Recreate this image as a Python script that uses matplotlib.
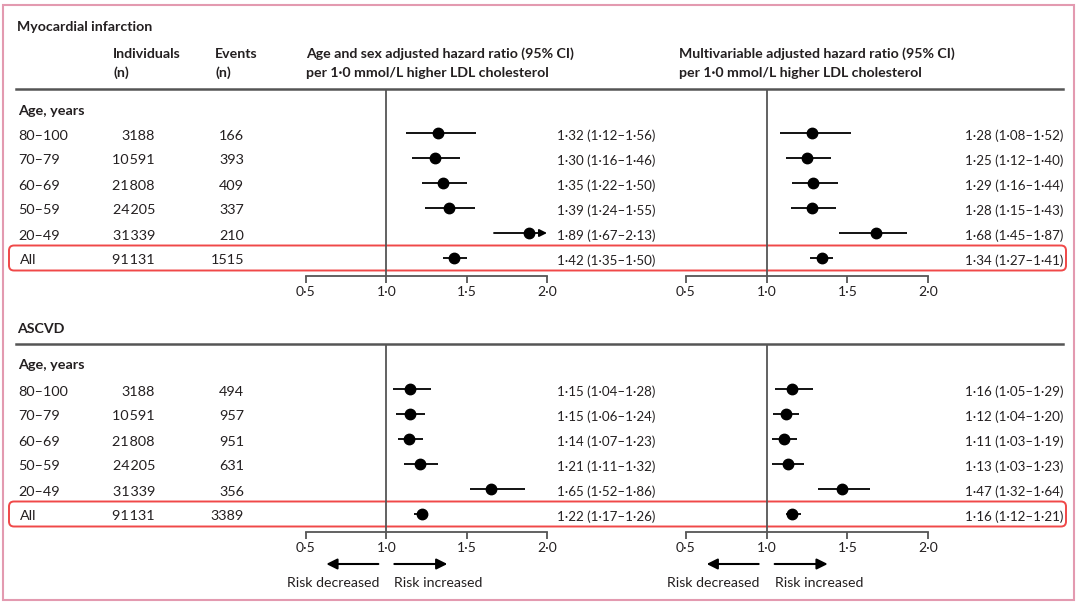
import matplotlib
matplotlib.use("Agg")
import matplotlib.pyplot as plt
from matplotlib.patches import FancyBboxPatch, Rectangle

plt.rcParams['font.family'] = ['Lato', 'DejaVu Sans']

# ---- data -------------------------------------------------------------
age_groups = ["80–100", "70–79", "60–69", "50–59", "20–49", "All"]
individuals = [3188, 10591, 21808, 24205, 31339, 91131]

mi_events = [166, 393, 409, 337, 210, 1515]
mi_agesex = [1.32, 1.30, 1.35, 1.39, 1.89, 1.42]
mi_agesex_lo = [1.12, 1.16, 1.22, 1.24, 1.67, 1.35]
mi_agesex_hi = [1.56, 1.46, 1.50, 1.55, 2.13, 1.50]
mi_multi = [1.28, 1.25, 1.29, 1.28, 1.68, 1.34]
mi_multi_lo = [1.08, 1.12, 1.16, 1.15, 1.45, 1.27]
mi_multi_hi = [1.52, 1.40, 1.44, 1.43, 1.87, 1.41]

ascvd_events = [494, 957, 951, 631, 356, 3389]
ascvd_agesex = [1.15, 1.15, 1.14, 1.21, 1.65, 1.22]
ascvd_agesex_lo = [1.04, 1.06, 1.07, 1.11, 1.52, 1.17]
ascvd_agesex_hi = [1.28, 1.24, 1.23, 1.32, 1.86, 1.26]
ascvd_multi = [1.16, 1.12, 1.11, 1.13, 1.47, 1.16]
ascvd_multi_lo = [1.05, 1.04, 1.03, 1.03, 1.32, 1.12]
ascvd_multi_hi = [1.29, 1.20, 1.19, 1.23, 1.64, 1.21]

xticks = [0.5, 1.0, 1.5, 2.0]
xticklabels = ["0·5", "1·0", "1·5", "2·0"]

TXT = "#231f20"
GREY = "#555555"
RED = "#f04848"
PINK = "#e39ab0"
W, H = 1080, 605
FS = 10.4
FSV = 9.6   # value columns

fig = plt.figure(figsize=(W / 100, H / 100), dpi=100)
bg = fig.add_axes([0, 0, 1, 1])
bg.set_xlim(0, W); bg.set_ylim(H, 0); bg.axis("off")


def fmt(v):
    return f"{v:.2f}".replace(".", "·")


def thou(n):
    # five-digit numbers get a hair space, four-digit ones none
    if n < 10000:
        return str(n)
    return f"{n:,}".replace(",", "\u200a")


def forest(x0, x1, ytop, ybot, row0, est, lo, hi):
    # axes placed in pixel space; rows are 25 px apart starting at row0
    ax = fig.add_axes([x0 / W, 1 - ybot / H, (x1 - x0) / W, (ybot - ytop) / H])
    ax.set_xlim(0.5, 2.0)
    ax.set_ylim((ybot - row0) / 25, -(row0 - ytop) / 25)
    ax.patch.set_alpha(0)
    for s in ("top", "left", "right"):
        ax.spines[s].set_visible(False)
    ax.spines["bottom"].set_color(GREY)
    ax.spines["bottom"].set_linewidth(1.3)
    ax.set_yticks([])
    ax.set_xticks(xticks)
    ax.set_xticklabels(xticklabels)
    ax.tick_params(axis="x", direction="out", length=5, width=1.3, color=GREY,
                   labelsize=10, labelcolor=TXT, pad=2)
    ax.axvline(1.0, color=GREY, lw=1.3, zorder=1)
    for i, (e, l, h) in enumerate(zip(est, lo, hi)):
        if h > 2.0:
            ax.annotate("", xy=(2.0, i), xytext=(l, i),
                        arrowprops=dict(arrowstyle="-|>", lw=1.3, color="black",
                                        mutation_scale=11, shrinkA=0, shrinkB=0),
                        annotation_clip=False)
        else:
            ax.plot([l, h], [i, i], color="black", lw=1.3, solid_capstyle="butt")
        ax.plot(e, i, "o", color="black", ms=7.5, zorder=3)
    return ax


def panel(title, ty, hline_y, age_y, row0, axis_y, events, a_est, a_lo, a_hi,
          m_est, m_lo, m_hi, headers):
    bg.text(17, ty, title, fontsize=10.2, fontweight="bold", color=TXT, va="center")
    if headers:
        for x, l1, l2 in [(113, "Individuals", "(n)"), (215, "Events", "(n)"),
                          (306, "Age and sex adjusted hazard ratio (95% CI)",
                           "per 1·0 mmol/L higher LDL cholesterol"),
                          (679, "Multivariable adjusted hazard ratio (95% CI)",
                           "per 1·0 mmol/L higher LDL cholesterol")]:
            bg.text(x, 54, l1, fontsize=10.2, fontweight="bold", color=TXT, va="center")
            bg.text(x, 73, l2, fontsize=10.2, fontweight="bold", color=TXT, va="center")
    bg.plot([16, 1063], [hline_y, hline_y], color=GREY, lw=1.8)
    bg.text(18, age_y + 1, "Age, years", fontsize=FS, fontweight="bold", color=TXT, va="center")
    for i, (g, n, ev) in enumerate(zip(age_groups, individuals, events)):
        y = row0 + 25 * i + 2.5
        bg.text(20 if g == "All" else 18, y, g, fontsize=FS, color=TXT, va="center")
        bg.text(155, y, thou(n), fontsize=FS, color=TXT, va="center", ha="right")
        bg.text(244, y, thou(ev), fontsize=FS, color=TXT, va="center", ha="right")
        bg.text(557, y, f"{fmt(a_est[i])} ({fmt(a_lo[i])}–{fmt(a_hi[i])})",
                fontsize=FSV, color=TXT, va="center")
        bg.text(965, y, f"{fmt(m_est[i])} ({fmt(m_lo[i])}–{fmt(m_hi[i])})",
                fontsize=FSV, color=TXT, va="center")
    yall = row0 + 25 * 5
    bg.add_patch(FancyBboxPatch((9, yall - 12.5), 1057, 25,
                                boxstyle="round,pad=0,rounding_size=5",
                                fc="none", ec=RED, lw=1.4, zorder=5))
    forest(306, 547, hline_y, axis_y, row0, a_est, a_lo, a_hi)
    forest(686, 928, hline_y, axis_y, row0, m_est, m_lo, m_hi)


panel("Myocardial infarction", 27, 89, 110, 133, 276, mi_events,
      mi_agesex, mi_agesex_lo, mi_agesex_hi, mi_multi, mi_multi_lo, mi_multi_hi, True)
panel("ASCVD", 329, 344, 364, 389, 532, ascvd_events,
      ascvd_agesex, ascvd_agesex_lo, ascvd_agesex_hi,
      ascvd_multi, ascvd_multi_lo, ascvd_multi_hi, False)

# direction arrows under the lower panel
for one in (306 + (547 - 306) / 3, 686 + (928 - 686) / 3):
    kw = dict(arrowprops=dict(arrowstyle="-|>", lw=1.5, color="black",
                              mutation_scale=16, shrinkA=0, shrinkB=0))
    bg.annotate("", xy=(one - 60, 564), xytext=(one - 8, 564), **kw)
    bg.annotate("", xy=(one + 61, 564), xytext=(one + 8, 564), **kw)
    bg.text(one - 7, 583, "Risk decreased", fontsize=10.2, color=TXT, va="center", ha="right")
    bg.text(one + 8, 583, "Risk increased", fontsize=10.2, color=TXT, va="center", ha="left")

bg.add_patch(Rectangle((3, 5), 1071, 595, fc="none", ec=PINK, lw=1.5))

fig.savefig("out.png", dpi=100)
